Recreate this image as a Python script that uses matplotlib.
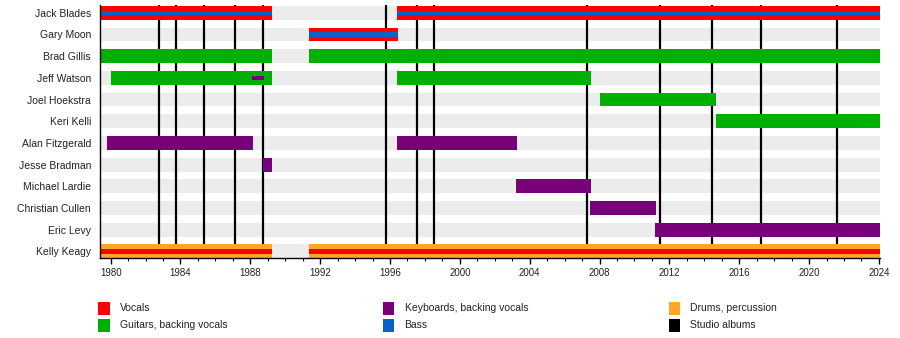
import matplotlib
matplotlib.use("Agg")
import matplotlib.pyplot as plt
from matplotlib.patches import Rectangle
from matplotlib.ticker import MultipleLocator

plt.rcParams.update({"font.family": ["Liberation Sans", "DejaVu Sans"]})

members = ["Jack Blades", "Gary Moon", "Brad Gillis", "Jeff Watson", "Joel Hoekstra",
           "Keri Kelli", "Alan Fitzgerald", "Jesse Bradman", "Michael Lardie",
           "Christian Cullen", "Eric Levy", "Kelly Keagy"]

# (member, start, end) - full-height bars
vocals = [("Jack Blades", 1979.39, 1989.24), ("Jack Blades", 1996.40, 2024.06),
          ("Gary Moon", 1991.37, 1996.44)]
guitars = [("Brad Gillis", 1979.39, 1989.24), ("Brad Gillis", 1991.37, 2024.06),
           ("Jeff Watson", 1980.02, 1989.24), ("Jeff Watson", 1996.40, 2007.50),
           ("Joel Hoekstra", 2008.02, 2014.67), ("Keri Kelli", 2014.67, 2024.06)]
keyboards = [("Alan Fitzgerald", 1979.79, 1988.15), ("Alan Fitzgerald", 1996.40, 2003.25),
             ("Jesse Bradman", 1988.70, 1989.24), ("Michael Lardie", 2003.20, 2007.50),
             ("Christian Cullen", 2007.45, 2011.23), ("Eric Levy", 2011.17, 2024.06)]
drums = [("Kelly Keagy", 1979.39, 1989.24), ("Kelly Keagy", 1991.37, 2024.06)]

# thin stripes drawn on top of the main bars
bass_stripe = [("Jack Blades", 1979.39, 1989.24), ("Jack Blades", 1996.40, 2024.06),
               ("Gary Moon", 1991.37, 1996.44)]
vocals_stripe = [("Kelly Keagy", 1979.39, 1989.24), ("Kelly Keagy", 1991.37, 2024.06)]
keys_stripe = [("Jeff Watson", 1988.10, 1988.80)]

albums = [1982.75, 1983.72, 1985.33, 1987.14, 1988.74, 1995.77, 1997.54, 1998.50,
          2007.26, 2011.46, 2014.44, 2017.25, 2021.60]

col = {"Vocals": "#ff0000", "Guitars": "#00b000", "Keyboards": "#780078",
       "Drums": "#ffa52a", "Bass": "#0a62c8", "Albums": "#000000"}

X0, X1 = 1979.39, 2024.06
BAR_H, STRIPE_H = 0.64, 0.21

fig = plt.figure(figsize=(9, 3.38), dpi=100)
ax = fig.add_axes([100 / 900, (338 - 258.3) / 338, 780 / 900, (258.3 - 5) / 338])
ypos = {m: i for i, m in enumerate(members)}

# grey background bands
ax.barh(range(len(members)), X1 - X0, left=X0, height=BAR_H, color="#ececec", zorder=1)

for x in albums:
    ax.axvline(x, color=col["Albums"], lw=1.6, zorder=2)

for rows, c, h in [(vocals, col["Vocals"], BAR_H), (guitars, col["Guitars"], BAR_H),
                   (keyboards, col["Keyboards"], BAR_H), (drums, col["Drums"], BAR_H),
                   (bass_stripe, col["Bass"], STRIPE_H), (vocals_stripe, col["Vocals"], STRIPE_H),
                   (keys_stripe, col["Keyboards"], STRIPE_H)]:
    z = 4 if h == STRIPE_H else 3
    for m, s, e in rows:
        ax.barh(ypos[m], e - s, left=s, height=h, color=c, lw=0, zorder=z)

ax.set_xlim(X0, X1)
ax.set_ylim(11.32, -0.36)
ax.set_yticks(range(len(members)))
ax.set_yticklabels(members, fontsize=7.5, color="#222")
ax.tick_params(axis="y", length=0, pad=6.5)
ax.xaxis.set_major_locator(MultipleLocator(4))
ax.xaxis.set_minor_locator(MultipleLocator(1))
ax.tick_params(axis="x", which="major", length=4, width=1, pad=3, labelsize=7, labelcolor="#222")
ax.tick_params(axis="x", which="minor", length=2.5, width=0.8)
for sp in ["top", "right"]:
    ax.spines[sp].set_visible(False)
for sp in ["left", "bottom"]:
    ax.spines[sp].set_linewidth(1)
    ax.spines[sp].set_zorder(5)

# legend
legend = [("Vocals", "Vocals", 98, 308.3), ("Guitars", "Guitars, backing vocals", 98, 325.3),
          ("Keyboards", "Keyboards, backing vocals", 382.6, 308.3), ("Bass", "Bass", 382.6, 325.3),
          ("Drums", "Drums, percussion", 668.5, 308.3), ("Albums", "Studio albums", 668.5, 325.3)]
for key, label, px, py in legend:
    fig.patches.append(Rectangle((px / 900, (338 - py - 6.4) / 338), 11.5 / 900, 12.7 / 338,
                                 transform=fig.transFigure, color=col[key], lw=0))
    fig.text((px + 22) / 900, (338 - py) / 338, label, fontsize=7.5, color="#222",
             va="center", ha="left")

fig.savefig("out.png", dpi=100)
